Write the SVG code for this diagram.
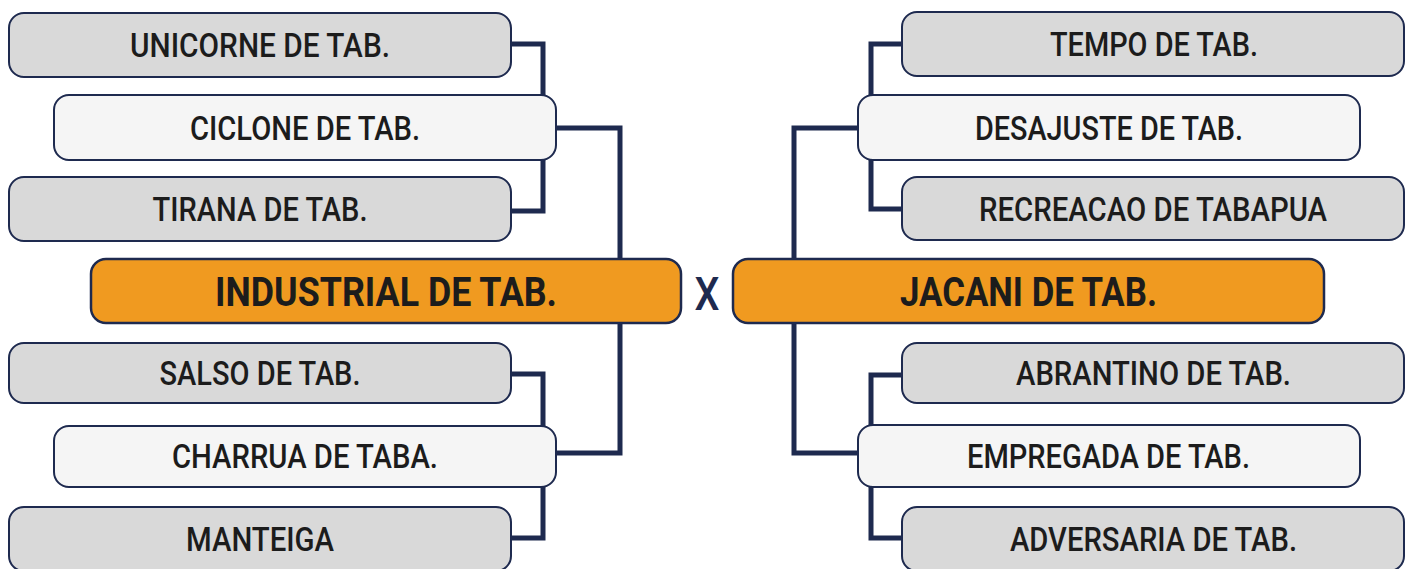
<svg xmlns="http://www.w3.org/2000/svg" width="1413" height="569" viewBox="0 0 1413 569">
  <style>
    .conn { fill: none; stroke: #1e2a4f; stroke-width: 5; stroke-linejoin: miter; }
    .outer { fill: #d9d9d9; stroke: #1e2a4f; stroke-width: 2; }
    .inner { fill: #f5f5f5; stroke: #1e2a4f; stroke-width: 2; }
    .main { fill: #f09a20; stroke: #1e2a4f; stroke-width: 2.5; }
    .lbl { font-family: Roboto, "Liberation Sans", sans-serif; font-weight: 500; font-size: 33px; fill: #1c1c1c; text-anchor: middle; }
    .mlbl { font-family: Roboto, "Liberation Sans", sans-serif; font-weight: 700; font-size: 40px; fill: #1c1c1c; text-anchor: middle; }
    .vs { font-family: Roboto, "Liberation Sans", sans-serif; font-weight: 500; font-size: 46px; fill: #1e2a4f; text-anchor: middle; }
  </style>
  <rect width="1413" height="569" fill="#ffffff"/>
  <g id="connectors">
    <path class="conn" d="M511,44 H543 V211 H511"/>
    <path class="conn" d="M556,128 H620 V453 H556"/>
    <path class="conn" d="M511,374 H543 V538 H511"/>
    <path class="conn" d="M902,44 H871 V209 H902"/>
    <path class="conn" d="M858,128 H794 V453 H858"/>
    <path class="conn" d="M902,375 H871 V538 H902"/>
  </g>
  <g id="unicorne"><rect class="outer" x="9" y="13" width="502" height="64" rx="15"/><text class="lbl" x="260" y="57" textLength="260" lengthAdjust="spacingAndGlyphs">UNICORNE DE TAB.</text></g>
  <g id="tirana"><rect class="outer" x="9" y="177" width="502" height="64" rx="15"/><text class="lbl" x="260" y="221" textLength="215" lengthAdjust="spacingAndGlyphs">TIRANA DE TAB.</text></g>
  <g id="ciclone"><rect class="inner" x="54" y="95" width="502" height="65" rx="15"/><text class="lbl" x="305" y="139.5" textLength="230" lengthAdjust="spacingAndGlyphs">CICLONE DE TAB.</text></g>
  <g id="salso"><rect class="outer" x="9" y="343" width="502" height="60" rx="15"/><text class="lbl" x="260" y="385" textLength="201" lengthAdjust="spacingAndGlyphs">SALSO DE TAB.</text></g>
  <g id="manteiga"><rect class="outer" x="9" y="507" width="502" height="64" rx="15"/><text class="lbl" x="260" y="551" textLength="148" lengthAdjust="spacingAndGlyphs">MANTEIGA</text></g>
  <g id="charrua"><rect class="inner" x="54" y="426" width="502" height="61" rx="15"/><text class="lbl" x="305" y="468" textLength="266" lengthAdjust="spacingAndGlyphs">CHARRUA DE TABA.</text></g>
  <g id="industrial"><rect class="main" x="91" y="259" width="590" height="64" rx="15"/><text class="mlbl" x="386" y="305.5" textLength="342" lengthAdjust="spacingAndGlyphs">INDUSTRIAL DE TAB.</text></g>
  <g id="vs"><text class="vs" x="707" y="310" textLength="25" lengthAdjust="spacingAndGlyphs">X</text></g>
  <g id="jacani"><rect class="main" x="733" y="259" width="591" height="64" rx="15"/><text class="mlbl" x="1028.5" y="305.5" textLength="257" lengthAdjust="spacingAndGlyphs">JACANI DE TAB.</text></g>
  <g id="tempo"><rect class="outer" x="902" y="12" width="502" height="64" rx="15"/><text class="lbl" x="1154" y="56" textLength="208" lengthAdjust="spacingAndGlyphs">TEMPO DE TAB.</text></g>
  <g id="recreacao"><rect class="outer" x="902" y="177" width="502" height="63" rx="15"/><text class="lbl" x="1153" y="220.5" textLength="348" lengthAdjust="spacingAndGlyphs">RECREACAO DE TABAPUA</text></g>
  <g id="desajuste"><rect class="inner" x="858" y="95" width="502" height="65" rx="15"/><text class="lbl" x="1109" y="139.5" textLength="268" lengthAdjust="spacingAndGlyphs">DESAJUSTE DE TAB.</text></g>
  <g id="abrantino"><rect class="outer" x="902" y="343" width="502" height="60" rx="15"/><text class="lbl" x="1153.5" y="385" textLength="275" lengthAdjust="spacingAndGlyphs">ABRANTINO DE TAB.</text></g>
  <g id="adversaria"><rect class="outer" x="902" y="507" width="502" height="64" rx="15"/><text class="lbl" x="1153.5" y="551" textLength="287" lengthAdjust="spacingAndGlyphs">ADVERSARIA DE TAB.</text></g>
  <g id="empregada"><rect class="inner" x="858" y="425" width="502" height="62" rx="15"/><text class="lbl" x="1108.5" y="468" textLength="283" lengthAdjust="spacingAndGlyphs">EMPREGADA DE TAB.</text></g>
</svg>
